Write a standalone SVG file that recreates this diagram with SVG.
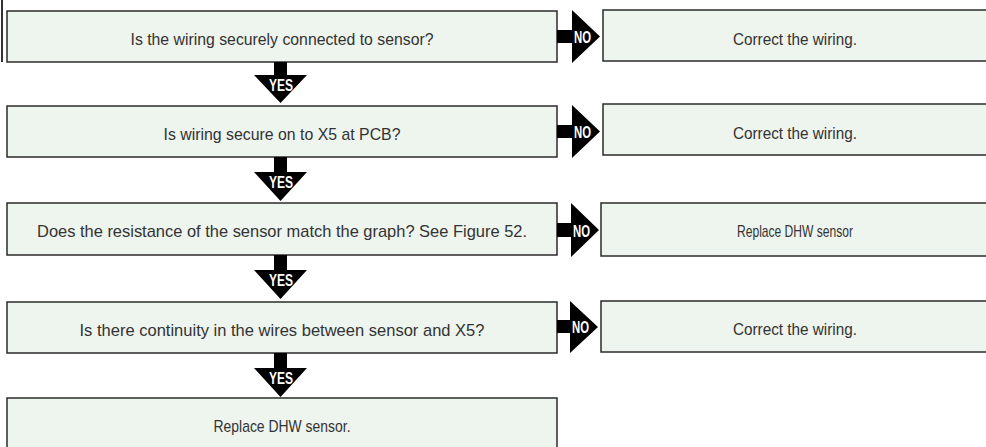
<svg xmlns="http://www.w3.org/2000/svg" width="986" height="447" viewBox="0 0 986 447">
<defs>
<style>
.box{fill:#eef4ee;stroke:#2b2b2b;stroke-width:1.5}
.t{font-family:"Liberation Sans",Arial,sans-serif;font-size:17px;fill:#333;text-anchor:middle}
.lbl{font-family:"Liberation Sans",Arial,sans-serif;font-weight:bold;font-size:16px;fill:#fff;text-anchor:middle}
.arr{fill:#000}
</style>
</defs>
<rect x="1" y="0" width="2" height="62" fill="#333"/>
<g id="q1"><rect class="box" x="7" y="11" width="550" height="51"/><text class="t" x="282" y="45" textLength="303" lengthAdjust="spacingAndGlyphs">Is the wiring securely connected to sensor?</text></g>
<g id="a1"><rect class="box" x="603" y="10" width="386" height="51"/><text class="t" x="795" y="45" textLength="124" lengthAdjust="spacingAndGlyphs">Correct the wiring.</text></g>
<g id="q2"><rect class="box" x="7" y="106" width="550" height="51"/><text class="t" x="282" y="140" textLength="237" lengthAdjust="spacingAndGlyphs">Is wiring secure on to X5 at PCB?</text></g>
<g id="a2"><rect class="box" x="603" y="104" width="386" height="51"/><text class="t" x="795" y="139" textLength="124" lengthAdjust="spacingAndGlyphs">Correct the wiring.</text></g>
<g id="q3"><rect class="box" x="7" y="203" width="550" height="52"/><text class="t" x="282" y="237" textLength="490" lengthAdjust="spacingAndGlyphs">Does the resistance of the sensor match the graph? See Figure 52.</text></g>
<g id="a3"><rect class="box" x="601" y="203" width="388" height="53"/><text class="t" x="795" y="237" textLength="116" lengthAdjust="spacingAndGlyphs">Replace DHW sensor</text></g>
<g id="q4"><rect class="box" x="7" y="302" width="550" height="51"/><text class="t" x="282" y="336" textLength="405" lengthAdjust="spacingAndGlyphs">Is there continuity in the wires between sensor and X5?</text></g>
<g id="a4"><rect class="box" x="601" y="301" width="388" height="51"/><text class="t" x="795" y="335" textLength="124" lengthAdjust="spacingAndGlyphs">Correct the wiring.</text></g>
<g id="r5"><rect class="box" x="7" y="398" width="550" height="60"/><text class="t" x="282" y="432" textLength="137" lengthAdjust="spacingAndGlyphs">Replace DHW sensor.</text></g>
<g id="connectors">
<g id="yes1"><polygon class="arr" points="274,62 287,62 287,75 307,75 280.5,103 254,75 274,75"/><text class="lbl" x="281" y="91" textLength="24" lengthAdjust="spacingAndGlyphs">YES</text></g>
<g id="yes2"><polygon class="arr" points="274,157 287,157 287,172 307,172 280.5,201 254,172 274,172"/><text class="lbl" x="281" y="188" textLength="24" lengthAdjust="spacingAndGlyphs">YES</text></g>
<g id="yes3"><polygon class="arr" points="274,255 287,255 287,270 307,270 280.5,299 254,270 274,270"/><text class="lbl" x="281" y="286" textLength="24" lengthAdjust="spacingAndGlyphs">YES</text></g>
<g id="yes4"><polygon class="arr" points="274,353 287,353 287,368 307,368 280.5,397 254,368 274,368"/><text class="lbl" x="281" y="384" textLength="24" lengthAdjust="spacingAndGlyphs">YES</text></g>
<g id="no1"><polygon class="arr" points="557,30 572,30 572,10 600,36.5 572,63 572,43 557,43"/><text class="lbl" x="582.5" y="43" textLength="17" lengthAdjust="spacingAndGlyphs">NO</text></g>
<g id="no2"><polygon class="arr" points="557,125 572,125 572,105 600,131.5 572,158 572,138 557,138"/><text class="lbl" x="582.5" y="138" textLength="17" lengthAdjust="spacingAndGlyphs">NO</text></g>
<g id="no3"><polygon class="arr" points="557,223 571,223 571,203 599,230 571,257 571,237 557,237"/><text class="lbl" x="581.5" y="236.5" textLength="17" lengthAdjust="spacingAndGlyphs">NO</text></g>
<g id="no4"><polygon class="arr" points="557,320 570,320 570,301 598,327 570,353 570,333 557,333"/><text class="lbl" x="580.5" y="333" textLength="17" lengthAdjust="spacingAndGlyphs">NO</text></g>
</g>
</svg>
